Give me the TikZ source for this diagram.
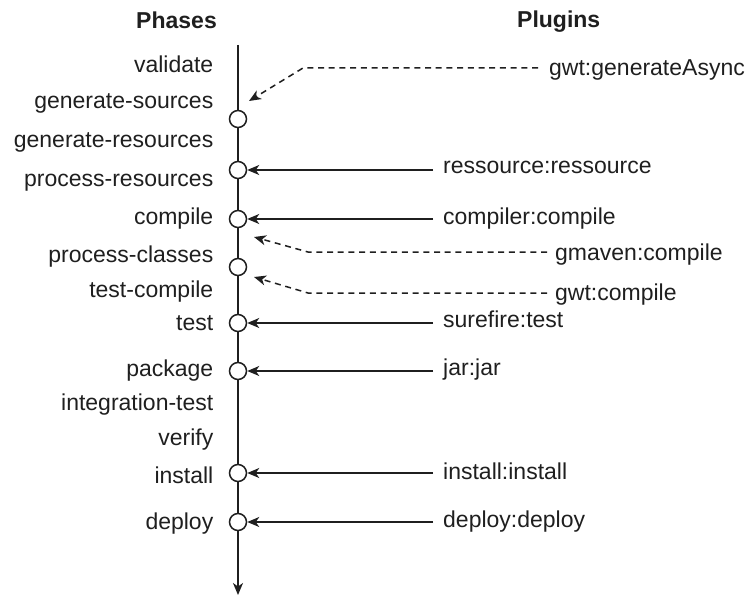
\documentclass[tikz,border=0pt]{standalone}
\usepackage{fontspec}
\setmainfont{Liberation Sans}
\usetikzlibrary{arrows.meta}

\begin{document}
\begin{tikzpicture}[x=1pt, y=-1pt,
  font=\fontsize{23}{27}\selectfont,
  ink/.style={draw=black!88, line width=1.5pt},
  phase/.style={anchor=base east, inner sep=0pt, text=black!88},
  plugin/.style={anchor=base west, inner sep=0pt, text=black!88},
  header/.style={inner sep=0pt, font=\fontsize{23}{27}\selectfont\bfseries, text=black!88},
  hook/.style={circle, ink, fill=white, minimum size=17pt, inner sep=0pt},
  tip/.style={-{Stealth[length=12pt, width=10pt, inset=3.5pt]}},
  bindarrow/.style={ink, tip},
  optarrow/.style={ink, tip, dash pattern=on 6pt off 4.7pt},
]
\useasboundingbox (0,0) rectangle (751,596);

% headers
\node[header, anchor=base east] (hphases) at (217,29) {Phases};
\node[header, anchor=base west] (hplugins) at (517,28) {Plugins};

% lifecycle axis
\coordinate (axtop) at (238,45);
\coordinate (axbot) at (238,595);
\draw[ink, tip] (axtop) -- (axbot);

% phases
\node[phase] (validate) at (213.5,73) {validate};
\node[phase] (gensrc)   at (213.5,109) {generate-sources};
\node[phase] (genres)   at (213.5,147) {generate-resources};
\node[phase] (procres)  at (213.5,186) {process-resources};
\node[phase] (compile)  at (213.5,224) {compile};
\node[phase] (proccls)  at (213.5,262) {process-classes};
\node[phase] (testcomp) at (213.5,297) {test-compile};
\node[phase] (test)     at (213.5,330) {test};
\node[phase] (package)  at (213.5,376) {package};
\node[phase] (itest)    at (213.5,410) {integration-test};
\node[phase] (verify)   at (213.5,445) {verify};
\node[phase] (install)  at (213.5,483) {install};
\node[phase] (deploy)   at (213.5,529) {deploy};

% binding points on the axis
\node[hook] (c1) at (238,119) {};
\node[hook] (c2) at (238,170) {};
\node[hook] (c3) at (238,219) {};
\node[hook] (c4) at (238,267) {};
\node[hook] (c5) at (238,323) {};
\node[hook] (c6) at (238,371) {};
\node[hook] (c7) at (238,473) {};
\node[hook] (c8) at (238,522) {};

% plugin goals
\node[plugin] (pasync)   at (549,76)  {gwt:generateAsync};
\node[plugin] (pres)     at (443,173) {ressource:ressource};
\node[plugin] (pcomp)    at (443,224) {compiler:compile};
\node[plugin] (pgmaven)  at (555,260) {gmaven:compile};
\node[plugin] (pgwt)     at (555,300) {gwt:compile};
\node[plugin] (psure)    at (443,327) {surefire:test};
\node[plugin] (pjar)     at (443,375) {jar:jar};
\node[plugin] (pinst)    at (443,479) {install:install};
\node[plugin] (pdeploy)  at (443,527) {deploy:deploy};

% bindings
\draw[bindarrow] ([xshift=-10pt]pres.west |- c2) -- (c2);
\draw[bindarrow] ([xshift=-10pt]pcomp.west |- c3) -- (c3);
\draw[bindarrow] ([xshift=-10pt]psure.west |- c5) -- (c5);
\draw[bindarrow] ([xshift=-10pt]pjar.west |- c6) -- (c6);
\draw[bindarrow] ([xshift=-10pt]pinst.west |- c7) -- (c7);
\draw[bindarrow] ([xshift=-10pt]pdeploy.west |- c8) -- (c8);

% optional bindings
\coordinate (b1) at (303,68);
\coordinate (b2) at (308,252);
\coordinate (b3) at (308,293);
\coordinate (t1) at (249,101);
\coordinate (t2) at (254,237);
\coordinate (t3) at (254,277);
\draw[optarrow] ([xshift=-11pt]pasync.west |- b1) -- (b1) -- (t1);
\draw[optarrow] ([xshift=-8pt]pgmaven.west |- b2) -- (b2) -- (t2);
\draw[optarrow] ([xshift=-8pt]pgwt.west |- b3) -- (b3) -- (t3);
\end{tikzpicture}
\end{document}
